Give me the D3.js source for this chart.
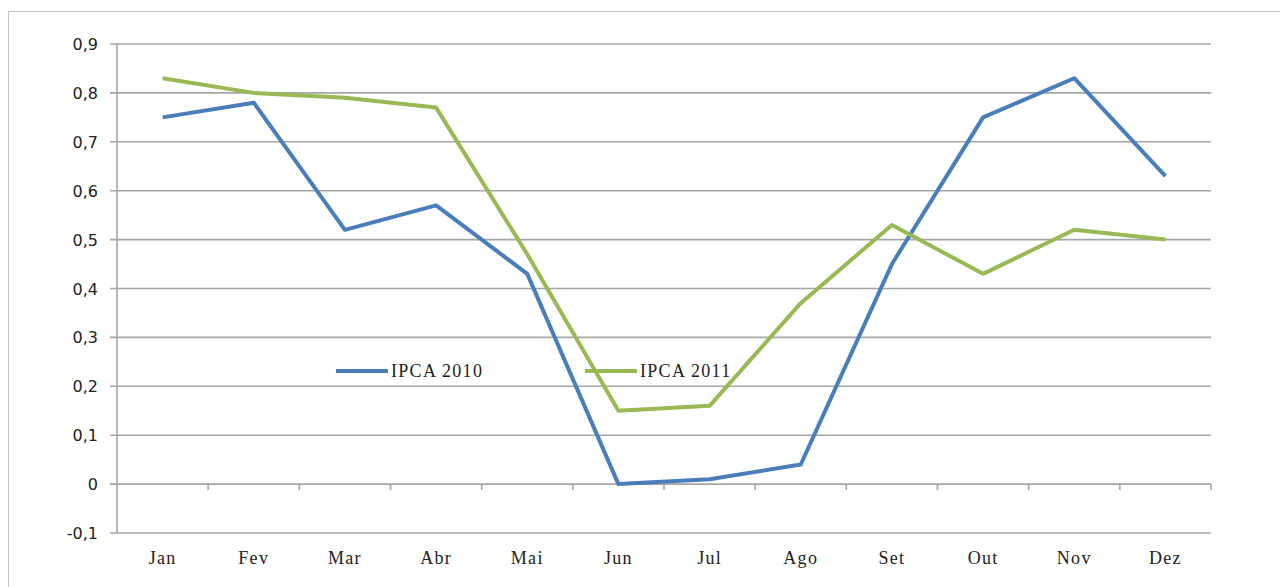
<!DOCTYPE html>
<html lang="pt">
  <head>
    <meta charset="utf-8">
    <script src="https://cdn.jsdelivr.net/npm/d3@7"></script>
    <style>
      body { margin: 0; background: #fff; }
    </style>
  </head>
  <body>
    <script type="text/javascript">
      // dados
      var meses = ["Jan", "Fev", "Mar", "Abr", "Mai", "Jun", "Jul", "Ago", "Set", "Out", "Nov", "Dez"];
      var ipca2010 = [0.75, 0.78, 0.52, 0.57, 0.43, 0.00, 0.01, 0.04, 0.45, 0.75, 0.83, 0.63];
      var ipca2011 = [0.83, 0.80, 0.79, 0.77, 0.47, 0.15, 0.16, 0.37, 0.53, 0.43, 0.52, 0.50];
      var yTicks = [-0.1, 0, 0.1, 0.2, 0.3, 0.4, 0.5, 0.6, 0.7, 0.8, 0.9];
      var series = [
        {name: "IPCA 2010", values: ipca2010, color: "#4a7ebb"},
        {name: "IPCA 2011", values: ipca2011, color: "#98b954"}
      ];

      var svgWidth = 1280;
      var svgHeight = 587;
      var plotLeft = 117, plotRight = 1211, plotTop = 44, plotBottom = 533;

      var svg = d3.select("body")
      .append("svg")
      .attr("width", svgWidth)
      .attr("height", svgHeight);

      // moldura
      svg.append("rect")
      .attr("x", 8.5).attr("y", 11.5)
      .attr("width", 1290).attr("height", 600)
      .attr("fill", "none")
      .attr("stroke", "#c4c4c4");

      var x = d3.scaleBand().domain(meses).range([plotLeft, plotRight]);
      var y = d3.scaleLinear().domain([-0.1, 0.9]).range([plotBottom, plotTop]);

      // grade
      svg.append("g").selectAll("line")
      .data(yTicks)
      .enter().append("line")
      .attr("x1", plotLeft - 7).attr("x2", plotRight)
      .attr("y1", function(d) { return y(d); })
      .attr("y2", function(d) { return y(d); })
      .attr("stroke", "#a6a6a6")
      .attr("stroke-width", 1.6);

      svg.append("line")
      .attr("x1", plotLeft).attr("x2", plotLeft)
      .attr("y1", plotTop).attr("y2", plotBottom)
      .attr("stroke", "#a6a6a6")
      .attr("stroke-width", 1.6);

      // eixo das categorias em zero
      var xAxis = svg.append("g")
      .attr("transform", "translate(0," + y(0) + ")");
      var bounds = meses.map(function(m) { return x(m); }).concat([plotRight]);
      xAxis.selectAll("line")
      .data(bounds.slice(1))
      .enter().append("line")
      .attr("x1", function(d) { return d; })
      .attr("x2", function(d) { return d; })
      .attr("y1", 0).attr("y2", 6)
      .attr("stroke", "#a6a6a6")
      .attr("stroke-width", 1.6);

      // rotulos y
      svg.append("g").selectAll("text")
      .data(yTicks)
      .enter().append("text")
      .attr("x", 98)
      .attr("y", function(d) { return y(d) + 6; })
      .attr("text-anchor", "end")
      .attr("font-family", "DejaVu Sans, sans-serif")
      .attr("font-size", 16)
      .attr("fill", "#222")
      .text(function(d) { return d3.format(".1f")(d).replace(".", ",").replace("0,0", "0").replace("−", "-"); });

      // rotulos x
      svg.append("g").selectAll("text")
      .data(meses)
      .enter().append("text")
      .attr("x", function(d) { return x(d) + x.bandwidth() / 2; })
      .attr("y", 564)
      .attr("text-anchor", "middle")
      .attr("font-family", "Liberation Serif, serif")
      .attr("font-size", 18)
      .attr("letter-spacing", 1.3)
      .attr("fill", "#222")
      .text(function(d) { return d; });

      // linhas
      var line = d3.line()
      .x(function(d, i) { return x(meses[i]) + x.bandwidth() / 2; })
      .y(function(d) { return y(d); });

      svg.append("g").selectAll("path")
      .data(series)
      .enter().append("path")
      .attr("d", function(s) { return line(s.values); })
      .attr("fill", "none")
      .attr("stroke", function(s) { return s.color; })
      .attr("stroke-width", 4)
      .attr("stroke-linejoin", "round");

      // legenda
      var legX = [336, 585];
      var leg = svg.append("g").selectAll("g")
      .data(series)
      .enter().append("g")
      .attr("transform", function(s, i) { return "translate(" + legX[i] + ",371)"; });
      leg.append("line")
      .attr("x1", 0).attr("x2", 52)
      .attr("stroke", function(s) { return s.color; })
      .attr("stroke-width", 4);
      leg.append("text")
      .attr("x", 55).attr("y", 6)
      .attr("font-family", "Liberation Serif, serif")
      .attr("font-size", 18)
      .attr("letter-spacing", 1.3)
      .attr("fill", "#222")
      .text(function(s) { return s.name; });
    </script>
  </body>
</html>
